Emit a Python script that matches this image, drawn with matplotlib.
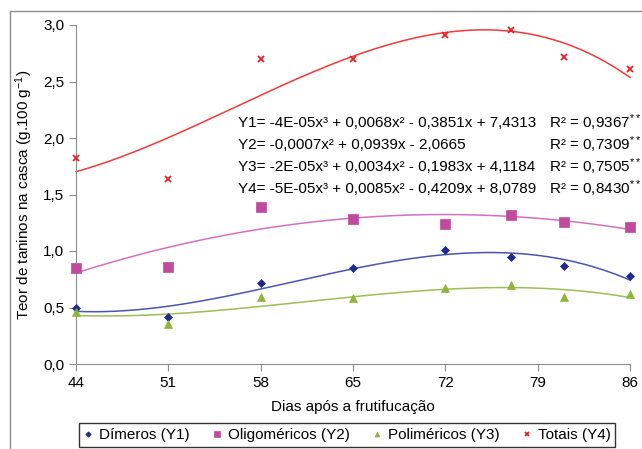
import numpy as np
import matplotlib
matplotlib.use("Agg")
import matplotlib.pyplot as plt
from matplotlib.patches import Rectangle

plt.rcParams['font.family'] = ['Liberation Sans', 'DejaVu Sans']
plt.rcParams['mathtext.fontset'] = 'custom'
plt.rcParams['mathtext.rm'] = 'Liberation Sans'
plt.rcParams['mathtext.it'] = 'Liberation Sans'

# days after fruit set
dias = [44, 51, 58, 65, 72, 77, 81, 86]
dimeros = [0.50, 0.42, 0.72, 0.85, 1.01, 0.95, 0.87, 0.78]
oligomericos = [0.85, 0.86, 1.39, 1.28, 1.24, 1.32, 1.26, 1.21]
polimericos = [0.46, 0.35, 0.59, 0.58, 0.67, 0.70, 0.59, 0.62]
totais = [1.82, 1.64, 2.70, 2.70, 2.91, 2.96, 2.72, 2.61]

eqs = ["Y1= -4E-05x³ + 0,0068x² - 0,3851x + 7,4313",
       "Y2= -0,0007x² + 0,0939x - 2,0665",
       "Y3= -2E-05x³ + 0,0034x² - 0,1983x + 4,1184",
       "Y4= -5E-05x³ + 0,0085x² - 0,4209x + 8,0789"]
r2 = ["0,9367", "0,7309", "0,7505", "0,8430"]

fig = plt.figure(figsize=(6.42, 4.49), dpi=100)
ax = fig.add_axes([76/642, 1-364/449, (630-76)/642, (364-25)/449])

series = [
    (dimeros, 3, 'D', '#1f2a8a', '#4a55b0', 4.5, 'Dímeros (Y1)'),
    (oligomericos, 2, 's', '#c04a9e', '#d470c0', 6.5, 'Oligoméricos (Y2)'),
    (polimericos, 3, '^', '#8fb43a', '#9dbd55', 6, 'Poliméricos (Y3)'),
    (totais, 3, 'x', '#ee1c25', '#f23a3a', 5, 'Totais (Y4)'),
]

xs = np.linspace(44, 86, 300)
handles = []
for vals, deg, mk, mc, lc, ms, lab in series:
    coef = np.polyfit(dias, vals, deg)
    ax.plot(xs, np.polyval(coef, xs), color=lc, lw=1.1, clip_on=False)
    h, = ax.plot(dias, vals, linestyle='none', marker=mk, color=mc, ms=ms,
                 mew=1.3 if mk == 'x' else 0.5, clip_on=False, zorder=5, label=lab)
    handles.append(h)

ax.set_xlim(44, 86)
ax.set_ylim(0, 3)
ax.set_xticks(range(44, 87, 7))
ax.set_yticks(np.arange(0, 3.01, 0.5))
ax.set_yticklabels([f"{v:.1f}".replace('.', ',') for v in np.arange(0, 3.01, 0.5)])
for s in ['top', 'right']:
    ax.spines[s].set_visible(False)
for s in ['left', 'bottom']:
    ax.spines[s].set_color('#8c8c8c')
ax.tick_params(colors='#8c8c8c', labelcolor='black', labelsize=11, length=5)
ax.set_xlabel("Dias após a frutifucação", fontsize=11, labelpad=7)
ax.set_ylabel("Teor de taninos na casca (g.100 g$^{-1}$)", fontsize=11, labelpad=6)

for i, (e, r) in enumerate(zip(eqs, r2)):
    yy = 123 + i * 22
    fig.text(238/642, 1 - yy/449, e, fontsize=11, va='center', ha='left')
    fig.text(641/642, 1 - yy/449, "R² = " + r + "$^{**}$", fontsize=11,
             va='center', ha='right')

leg = fig.legend(handles=handles, loc='center', bbox_to_anchor=(347/642, 1 - 435/449),
                 ncol=4, fontsize=11, frameon=True, fancybox=False, edgecolor='black',
                 markerscale=0.6, handlelength=0.6, handletextpad=0.4, columnspacing=1.5,
                 borderpad=0.3)
leg.get_frame().set_linewidth(1.0)

fig.patches.append(Rectangle((10/642, -0.1), 2, 1 - 11/449 + 0.1, transform=fig.transFigure,
                             fill=False, edgecolor='#8c8c8c', lw=1))

fig.savefig("out.png", dpi=100)
